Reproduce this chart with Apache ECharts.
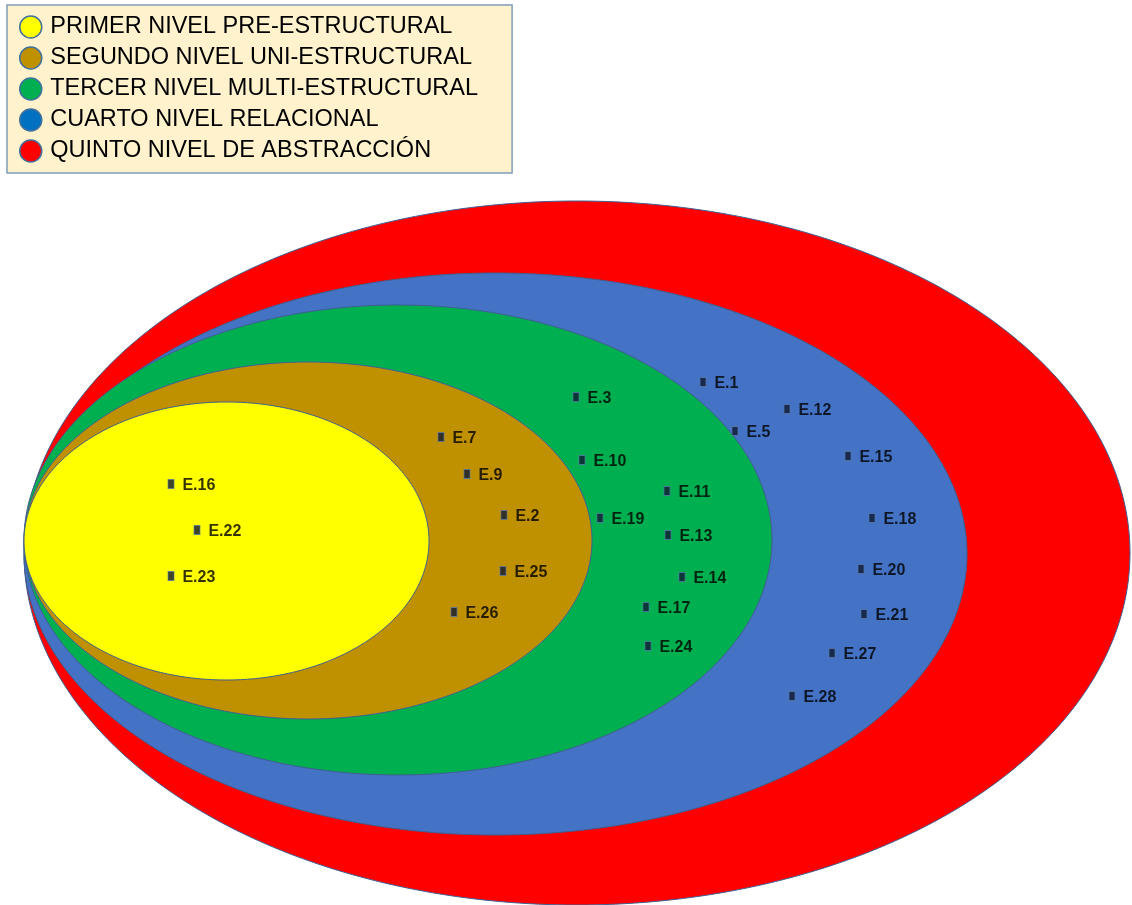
<!DOCTYPE html>
<html>
<head>
<meta charset="utf-8">
<script src="https://cdn.jsdelivr.net/npm/echarts@6/dist/echarts.min.js"></script>
<style>
  html, body { margin: 0; padding: 0; background: #fff; }
  #chart { width: 1132px; height: 905px; }
</style>
</head>
<body>
<div id="chart"></div>
<script>
  // niveles (legend order) and their colours
  const levels = [
    'PRIMER NIVEL PRE-ESTRUCTURAL',
    'SEGUNDO NIVEL UNI-ESTRUCTURAL',
    'TERCER NIVEL MULTI-ESTRUCTURAL',
    'CUARTO NIVEL RELACIONAL',
    'QUINTO NIVEL DE ABSTRACCIÓN'
  ];
  const levelColors = ['#FFFF00', '#BF9000', '#00B050', '#4472C4', '#FF0000'];
  const legendColors = ['#FFFF00', '#BF9000', '#00B050', '#0070C0', '#FF0000'];

  // extent of each level region on the plane (left, right, top, bottom)
  const levelLeft   = [24, 24, 24, 24, 24];
  const levelRight  = [429, 592, 772, 967, 1130];
  const levelTop    = [402, 362, 305, 273, 201];
  const levelBottom = [680, 719, 775, 835, 905];

  // estudiantes
  const students = ['E.1', 'E.2', 'E.3', 'E.5', 'E.7', 'E.9', 'E.10', 'E.11', 'E.12', 'E.13',
    'E.14', 'E.15', 'E.16', 'E.17', 'E.18', 'E.19', 'E.20', 'E.21', 'E.22', 'E.23',
    'E.24', 'E.25', 'E.26', 'E.27', 'E.28'];
  const studentX = [703, 504, 576, 735, 441, 467, 582, 667, 787, 668,
    682, 848, 171, 646, 872, 600, 861, 864, 197, 171,
    648, 503, 454, 832, 792];
  const studentY = [382, 515, 397, 431, 437, 474, 460, 491, 409, 535,
    577, 456, 484, 607, 518, 518, 569, 614, 530, 576,
    646, 571, 612, 653, 696];

  const chart = echarts.init(document.getElementById('chart'));

  function ellipseItem(params, api) {
    const l = api.value(0), r = api.value(1), t = api.value(2), b = api.value(3);
    const cx = (l + r) / 2, cy = (t + b) / 2, rx = (r - l) / 2, ry = (b - t) / 2;
    const pts = [];
    for (let i = 0; i < 360; i++) {
      const a = i / 360 * Math.PI * 2;
      pts.push(api.coord([cx + rx * Math.cos(a), cy + ry * Math.sin(a)]));
    }
    return {
      type: 'polygon',
      shape: { points: pts },
      style: { fill: api.visual('color'), stroke: '#3F5F91', lineWidth: 1 }
    };
  }

  const series = [];
  // biggest region first so the smaller ones sit on top
  for (let i = levels.length - 1; i >= 0; i--) {
    series.push({
      name: levels[i],
      type: 'custom',
      silent: true,
      itemStyle: { color: levelColors[i] },
      encode: { x: [0, 1], y: [2, 3] },
      data: [[levelLeft[i], levelRight[i], levelTop[i], levelBottom[i]]],
      renderItem: ellipseItem
    });
  }

  series.push({
    name: 'Estudiantes',
    type: 'scatter',
    z: 5,
    symbol: 'rect',
    symbolSize: [6, 9],
    itemStyle: { color: '#0E1830', borderColor: '#5A79AD', borderWidth: 1 },
    label: {
      show: true,
      position: 'right',
      distance: 8,
      offset: [0, 2],
      formatter: '{b}',
      color: '#000',
      fontWeight: 'bold',
      fontSize: 16,
      fontFamily: '"Liberation Sans", Arial, sans-serif'
    },
    data: students.map((s, i) => ({ name: s, value: [studentX[i], studentY[i]] }))
  });

  const option = {
    animation: false,
    grid: { left: 0, right: 0, top: 0, bottom: 0 },
    xAxis: { type: 'value', min: 0, max: 1132, show: false },
    yAxis: { type: 'value', min: 0, max: 905, inverse: true, show: false },
    legend: {
      orient: 'vertical',
      left: 7,
      top: 5,
      padding: [10, 34, 10, 12],
      itemWidth: 29,
      itemHeight: 22,
      itemGap: 7,
      icon: 'circle',
      backgroundColor: '#FFF2CC',
      borderColor: '#7F9DB9',
      borderWidth: 1.5,
      selectedMode: false,
      textStyle: {
        color: '#000',
        fontSize: 23.5,
        fontFamily: '"Liberation Sans", Arial, sans-serif'
      },
      data: levels.map((n, i) => ({
        name: n,
        itemStyle: { color: legendColors[i], borderColor: '#41719C', borderWidth: 1.5 }
      }))
    },
    series: series
  };

  chart.setOption(option);
</script>
</body>
</html>
